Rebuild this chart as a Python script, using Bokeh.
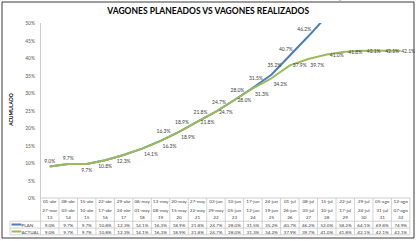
import math

from bokeh.core.properties import value
from bokeh.embed import file_html
from bokeh.models import ColumnDataSource, Range1d
from bokeh.plotting import figure
from bokeh.resources import INLINE

# ---- data -------------------------------------------------------------
week_end = ["01-abr", "08-abr", "15-abr", "22-abr", "29-abr", "06-may", "13-may",
            "20-may", "27-may", "03-jun", "10-jun", "17-jun", "24-jun", "01-jul",
            "08-jul", "15-jul", "22-jul", "29-jul", "05-ago", "12-ago"]
week_start = ["27-mar", "03-abr", "10-abr", "17-abr", "24-abr", "01-may", "08-may",
              "15-may", "22-may", "29-may", "05-jun", "12-jun", "19-jun", "26-jun",
              "03-jul", "10-jul", "17-jul", "24-jul", "31-jul", "07-ago"]
week_no = ["13", "14", "15", "16", "17", "18", "19", "20", "21", "22",
           "23", "24", "25", "26", "27", "28", "29", "30", "31", "32"]
plan = [9.0, 9.7, 9.7, 10.8, 12.3, 14.1, 16.3, 18.9, 21.8, 24.7,
        28.0, 31.5, 35.2, 40.7, 46.2, 52.0, 58.2, 64.1, 69.8, 74.9]
actual = [9.0, 9.7, 9.7, 10.8, 12.3, 14.1, 16.3, 18.9, 21.8, 24.7,
          28.0, 31.3, 34.2, 37.9, 39.7, 41.0, 41.8, 42.1, 42.1, 42.1]
y_ticks = [0, 5, 10, 15, 20, 25, 30, 35, 40, 45, 50]
y_tick_labels = ["0%", "5%", "10%", "15%", "20%", "25%", "30%", "35%", "40%", "45%", "50%"]
series_names = ["PLAN", "ACTUAL"]
title_text = "VAGONES PLANEADOS VS VAGONES REALIZADOS"
y_title = "ACUMULADO"

# ---- layout (pixels on the 416 x 241 canvas) ---------------------------
W, H = 416, 241
PLOT_L = 40              # left edge of the plotting area / first week column
COL_W = 18.47            # width of one week column
Y_ZERO, PX_PER_PCT = 197.5, 3.5
Y_MAX = 50

BLUE = "#4A7EBB"
GREEN = "#9BBB59"
GRID = "#C8C8C8"
AXIS = "#BFBFBF"
TEXT = "#404040"
FONT = "Lato"


def dx(px):
    """canvas pixel column -> x data value (week index)"""
    return -0.5 + (px - PLOT_L) / COL_W


def dy(py):
    """canvas pixel row -> y data value (percent)"""
    return (Y_ZERO - py) / PX_PER_PCT


n = len(plan)
idx = list(range(n))

p = figure(width=W, height=H, output_backend="svg", toolbar_location=None,
           x_range=Range1d(dx(0), dx(W)), y_range=Range1d(dy(H), dy(0)),
           min_border=0, background_fill_color="white", border_fill_color="white")
p.outline_line_color = None
p.grid.visible = False
p.axis.visible = False
p.title.visible = False

txt = dict(text_font=value(FONT), text_color=TEXT)

# ---- series -------------------------------------------------------------
p.line(idx, plan, line_color=BLUE, line_width=2)
p.line(idx, actual, line_color=GREEN, line_width=2)

# the plotting area ends at 50%: blank out anything drawn above it
p.quad(left=dx(0), right=dx(W), bottom=Y_MAX, top=dy(0),
       fill_color="white", line_color=None)

# value axis
p.segment(x0=[-0.5], y0=[Y_MAX], x1=[-0.5], y1=[0], line_color=AXIS, line_width=0.8)
p.text(x=[dx(34.5)] * len(y_ticks), y=y_ticks, text=y_tick_labels,
       text_align="right", text_baseline="middle", text_font=value(FONT),
       text_font_size="5px", text_color="#595959")
p.text(x=[dx(10)], y=[dy(109)], text=[y_title], angle=math.pi / 2,
       text_align="center", text_baseline="middle", text_font=value(FONT),
       text_font_style="bold", text_font_size="5px", text_color="#000000")

# title
p.text(x=[dx(W / 2)], y=[dy(10.5)], text=[title_text], text_align="center",
       text_baseline="middle", text_font=value(FONT), text_font_style="bold",
       text_font_size="8.5px", text_color="#000000")

# value labels: plan above the line, actual below / to the right
plan_src = dict(x=[], y=[], t=[], xo=[], yo=[])
for i in range(n):
    if plan[i] > Y_MAX or 2 <= i <= 5:
        continue
    plan_src["x"].append(i)
    plan_src["y"].append(plan[i])
    plan_src["t"].append(f"{plan[i]:.1f}%")
    if i < 2:
        xo, yo = 0, -6
    elif i < 13:
        xo, yo = 3, -10
    else:
        xo, yo = -4, -7
    plan_src["xo"].append(xo)
    plan_src["yo"].append(yo)

below_right = {5, 6, 7, 11, 12, 14}
act_src = dict(x=[], y=[], t=[], xo=[], yo=[], al=[])
for i in range(2, n):
    act_src["x"].append(i)
    act_src["y"].append(actual[i])
    act_src["t"].append(f"{actual[i]:.1f}%")
    if i <= 4:
        xo, yo, al = 0, 6, "center"
    elif i in below_right:
        xo, yo, al = 2, 5.5, "left"
    elif i == n - 1:
        xo, yo, al = 0.5, 0, "left"   # last one sits against the chart border
    else:
        xo, yo, al = 3, 0, "left"
    act_src["xo"].append(xo)
    act_src["yo"].append(yo)
    act_src["al"].append(al)

p.text(x="x", y="y", text="t", x_offset="xo", y_offset="yo", text_align="center",
       source=ColumnDataSource(plan_src), text_baseline="middle",
       text_font_size="5px", **txt)
p.text(x="x", y="y", text="t", x_offset="xo", y_offset="yo", text_align="al",
       source=ColumnDataSource(act_src), text_baseline="middle",
       text_font_size="5px", **txt)

# ---- data table under the chart ----------------------------------------
row_y = [200.7, 209.0, 216.9, 224.0, 231.0]
plan_txt = [f"{v:.1f}%" for v in plan]
act_txt = [f"{v:.1f}%" for v in actual]
for ry, col in zip(row_y, [week_end, week_start, week_no, plan_txt, act_txt]):
    p.text(x=idx, y=[dy(ry)] * n, text=col, text_align="center",
           text_baseline="middle", text_font_size="4.6px", **txt)

line_y = [220.7, 227.6, 234.3]
edges = [i - 0.5 for i in range(n + 1)]
p.segment(x0=edges, y0=[0] * (n + 1), x1=edges, y1=[dy(line_y[-1])] * (n + 1),
          line_color=GRID, line_width=0.8)
p.segment(x0=[-0.5], y0=[0], x1=[n - 0.5], y1=[0], line_color=AXIS, line_width=0.8)
p.segment(x0=[dx(9.5)] * 3, y0=[dy(v) for v in line_y],
          x1=[n - 0.5] * 3, y1=[dy(v) for v in line_y],
          line_color=GRID, line_width=0.8)
p.segment(x0=[dx(9.5)], y0=[dy(line_y[0])], x1=[dx(9.5)], y1=[dy(line_y[-1])],
          line_color=GRID, line_width=0.8)

# series keys in the table's first column
for name, color, ry in zip(series_names, [BLUE, GREEN], row_y[3:]):
    p.segment(x0=[dx(11)], y0=[dy(ry)], x1=[dx(21)], y1=[dy(ry)],
              line_color=color, line_width=2)
    p.text(x=[dx(21)], y=[dy(ry)], text=[name], text_align="left",
           text_baseline="middle", text_font_size="4.6px", **txt)

# chart border
p.quad(left=dx(1.5), right=dx(413.5), top=dy(1.5), bottom=dy(237.5),
       fill_color=None, line_color="#3A3A3A", line_width=1)

open("out.html", "w").write(file_html(p, INLINE))
